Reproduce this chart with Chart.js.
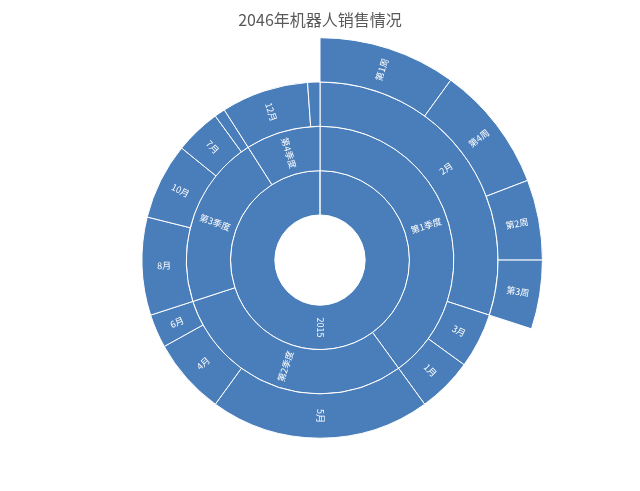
<!DOCTYPE html>
<html>
<head>
<meta charset="utf-8">
<script src="https://cdn.jsdelivr.net/npm/chart.js@4/dist/chart.umd.min.js"></script>
<style>
  body { margin: 0; background: #fff; }
  #wrap { width: 640px; height: 491px; }
</style>
</head>
<body>
<div id="wrap"><canvas id="sunburst" width="640" height="491"></canvas></div>
<script>
// 数据 (从图上估计)
const years = ['2015'];
const yearValues = [360];

const quarters = ['第1季度', '第2季度', '第3季度', '第4季度'];
const quarterValues = [144, 108, 75.5, 32.5];

const months = ['2月', '3月', '1月', '5月', '4月', '6月', '8月', '10月', '7月', '9月', '12月', '11月'];
const monthValues = [108, 18, 18, 72, 25, 11, 32, 25, 15, 3.5, 28.5, 4];

// 只有2月拆到周
const weeks = ['第1周', '第4周', '第2周', '第3周'];
const weekValues = [36, 33, 21, 18];

const FILL = '#4a7ebb';
const FONT = '"Noto Sans CJK SC", "Noto Sans", sans-serif';

const total = yearValues[0];
const weekRest = total - weekValues.reduce((a, b) => a + b, 0);

// 外圈剩余部分透明
const weekColors = weekValues.map(() => FILL).concat(['rgba(0,0,0,0)']);
const weekBorders = weekValues.map(() => 1).concat([0]);

/**
 * 在每个扇区中画旋转的标签 (右半边向外读, 左半边向内读)
 */
const sunburstLabels = {
  id: 'sunburstLabels',
  afterDatasetsDraw(chart) {
    const ctx = chart.ctx;
    ctx.save();
    ctx.fillStyle = '#ffffff';
    ctx.font = '9px ' + FONT;
    ctx.textAlign = 'center';
    ctx.textBaseline = 'middle';

    chart.data.datasets.forEach((ds, i) => {
      const meta = chart.getDatasetMeta(i);
      meta.data.forEach((arc, j) => {
        const text = ds.names[j];
        if (!text) return;
        const span = arc.endAngle - arc.startAngle;
        if (span < 6 * Math.PI / 180) return; // 太窄不显示

        let mid = (arc.startAngle + arc.endAngle) / 2;
        if (span >= 2 * Math.PI - 0.001) mid = Math.PI / 2; // 整圈: 放在底部
        const r = (arc.innerRadius + arc.outerRadius) / 2;
        const x = arc.x + Math.cos(mid) * r;
        const y = arc.y + Math.sin(mid) * r;

        const fromTop = mid + Math.PI / 2; // 从12点顺时针
        const rot = fromTop <= Math.PI + 0.001 ? mid : mid - Math.PI;

        ctx.save();
        ctx.translate(x, y);
        ctx.rotate(rot);
        ctx.fillText(text, 0, 0);
        ctx.restore();
      });
    });
    ctx.restore();
  }
};

new Chart(document.getElementById('sunburst'), {
  type: 'doughnut',
  data: {
    labels: months,
    datasets: [
      {
        names: weeks.concat(['']),
        data: weekValues.concat([weekRest]),
        backgroundColor: weekColors,
        borderWidth: weekBorders
      },
      {
        names: months,
        data: monthValues,
        backgroundColor: FILL
      },
      {
        names: quarters,
        data: quarterValues,
        backgroundColor: FILL
      },
      {
        names: years,
        data: yearValues,
        backgroundColor: FILL
      }
    ]
  },
  options: {
    responsive: false,
    animation: false,
    cutout: '20.3%',
    hoverOffset: 0,
    elements: {
      arc: {
        borderColor: '#ffffff',
        borderWidth: 1,
        borderAlign: 'center',
        offset: 0
      }
    },
    layout: {
      padding: { top: 0, bottom: 8, left: 0, right: 0 }
    },
    plugins: {
      legend: { display: false },
      tooltip: { enabled: false },
      title: {
        display: true,
        text: '2046年机器人销售情况',
        color: '#595959',
        font: { family: FONT, size: 16, weight: 'normal' },
        padding: { top: 10, bottom: 8 }
      }
    }
  },
  plugins: [sunburstLabels]
});
</script>
</body>
</html>
